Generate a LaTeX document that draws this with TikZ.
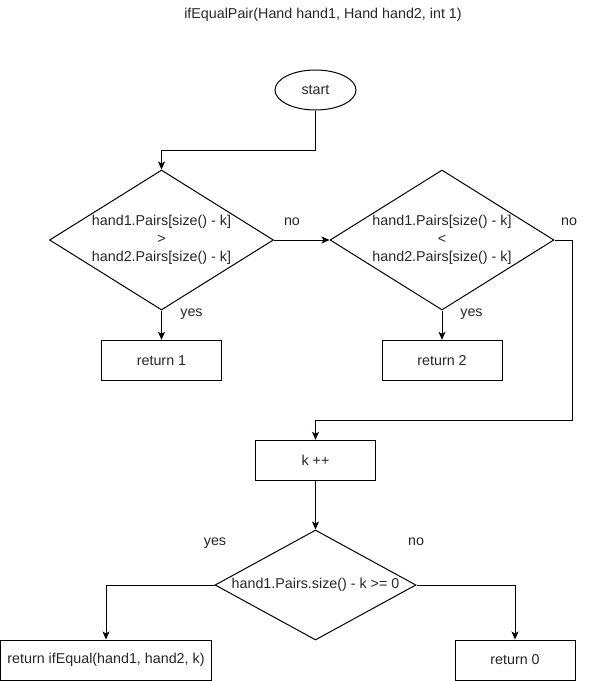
\documentclass[tikz,border=0pt]{standalone}
\usepackage{fontspec}
\setmainfont{Liberation Sans}
\usetikzlibrary{shapes.geometric,arrows.meta}
\begin{document}
\begin{tikzpicture}[x=1pt,y=-1pt,
  every node/.style={font=\fontsize{14.3}{17.8}\selectfont, text=black!85},
  txt/.style={inner sep=0pt, text height=0.72em, text depth=0.2em},
  terminal/.style={draw=black, line width=1pt, ellipse, minimum width=81pt, minimum height=40pt, inner sep=0pt},
  box/.style={draw=black, line width=1pt, rectangle, minimum width=120pt, minimum height=40pt, inner sep=0pt},
  decision/.style={draw=black, line width=1pt, diamond, aspect=1.6, minimum width=224pt, minimum height=140pt, inner sep=0pt, align=center},
  flow/.style={draw=black, line width=1pt},
  arr/.style={flow, -{Stealth[length=8pt,width=7pt,inset=2pt]}}
]
\useasboundingbox (0,0) rectangle (590,681);

% title
\node[txt] (ttl) at (323,16) {ifEqualPair(Hand hand1, Hand hand2, int 1)};

% shapes
\node[terminal] (start) at (315.5,90) {start};
\node[decision] (d1) at (161.5,240) {hand1.Pairs[size() - k]\\>\\hand2.Pairs[size() - k]};
\node[decision] (d2) at (442,240) {hand1.Pairs[size() - k]\\<\\hand2.Pairs[size() - k]};
\node[box] (r1) at (161.5,360.3) {return 1};
\node[box] (r2) at (442,360.3) {return 2};
\node[box] (k) at (315.5,460.3) {k ++};
\node[decision, aspect=1.83, minimum width=201pt, minimum height=110pt] (d3) at (315.5,585) {hand1.Pairs.size() - k >= 0};
\node[box, minimum width=211pt] (r3) at (106,660) {return ifEqual(hand1, hand2, k)};
\node[box] (r4) at (515,660) {return 0};

% bend points
\coordinate (j1) at (240,150.5);
\coordinate (j2) at (572,420.5);

% connectors
\draw[arr] (start.south) |- (j1) -| (d1.north);
\draw[arr] (d1.east) -- (d2.west);
\draw[arr] (d1.south) -- (r1.north);
\draw[arr] (d2.south) -- (r2.north);
\draw[arr] (d2.east) -| (j2) -| (k.north);
\draw[arr] (k.south) -- (d3.north);
\draw[arr] (d3.west) -| (r3.north);
\draw[arr] (d3.east) -| (r4.north);

% branch labels
\node[txt] (no1) at (292,223) {no};
\node[txt] (yes1) at (191.5,313.5) {yes};
\node[txt] (no2) at (569,223) {no};
\node[txt] (yes2) at (471.5,313.5) {yes};
\node[txt] (yes3) at (215,543) {yes};
\node[txt] (no3) at (416,543) {no};
\end{tikzpicture}
\end{document}
